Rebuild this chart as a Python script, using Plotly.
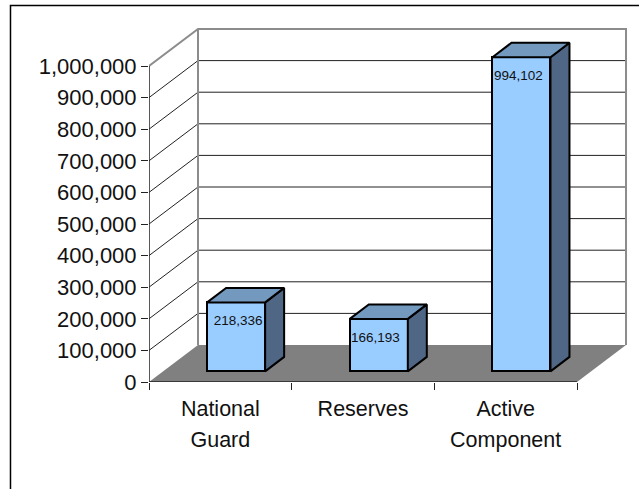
import plotly.graph_objects as go

categories = ["National<br>Guard", "Reserves", "Active<br>Component"]
values = [218336, 166193, 994102]
value_labels = ["218,336", "166,193", "994,102"]
y_ticks = [0, 100000, 200000, 300000, 400000, 500000, 600000, 700000, 800000, 900000, 1000000]

FONT = "Liberation Sans"
PX_X = 142.67          # pixels per category
PX_Y = 316e-6          # pixels per unit of value
W, H = 639, 489
L, R, T, B = 149, 4, 20, 107
x_range = [-0.5, -0.5 + (W - L - R) / PX_X]
y_range = [0, (H - T - B) / PX_Y]
WALL_DX, WALL_DY = 49 / PX_X, 37 / PX_Y
BAR_DX, BAR_DY = 19 / PX_X, 14.5 / PX_Y
BAR_W = 58 / PX_X
BAR_SHIFT = 15.8 / PX_X
BAR_BASE = 10.6 / PX_Y
LABEL_DROP = 19.5 / PX_Y
LABEL_NUDGE = [2.0 / PX_X, -3.5 / PX_X, -3.0 / PX_X]
X0, X1 = -0.5, 2.5
TOP = y_ticks[-1]

fig = go.Figure()
fig.add_trace(go.Bar(
    x=categories, y=values, base=BAR_BASE, width=BAR_W, offset=BAR_SHIFT - BAR_W / 2,
    marker=dict(color="#99CCFF", line=dict(color="#000000", width=2)),
    hoverinfo="skip", showlegend=False))

positions = list(range(len(values)))
for p, v in zip(positions, values):
    xl = p + BAR_SHIFT - BAR_W / 2
    xr = xl + BAR_W
    yb = BAR_BASE
    yt = BAR_BASE + v
    fig.add_trace(go.Scatter(
        x=[xr, xr + BAR_DX, xr + BAR_DX, xr, xr],
        y=[yb, yb + BAR_DY, yt + BAR_DY, yt, yb],
        mode="lines", fill="toself", fillcolor="#4F6685",
        line=dict(color="#000000", width=2), xaxis="x2", yaxis="y",
        hoverinfo="skip", showlegend=False))
    fig.add_trace(go.Scatter(
        x=[xl, xl + BAR_DX, xr + BAR_DX, xr, xl],
        y=[yt, yt + BAR_DY, yt + BAR_DY, yt, yt],
        mode="lines", fill="toself", fillcolor="#7399BF",
        line=dict(color="#000000", width=2), xaxis="x2", yaxis="y",
        hoverinfo="skip", showlegend=False))

fig.add_trace(go.Scatter(
    x=[p + BAR_SHIFT + n for p, n in zip(positions, LABEL_NUDGE)],
    y=[BAR_BASE + v - LABEL_DROP for v in values],
    text=value_labels, mode="text", textposition="middle center",
    textfont=dict(family=FONT, size=13.5, color="#111111"),
    xaxis="x2", yaxis="y", hoverinfo="skip", showlegend=False, cliponaxis=False))

# left axis line and front floor edge
fig.add_trace(go.Scatter(
    x=[X0, X0, X1], y=[TOP, 0, 0], mode="lines",
    line=dict(color="#222222", width=1.5), xaxis="x2", yaxis="y",
    hoverinfo="skip", showlegend=False, cliponaxis=False))

shapes = []
# floor
shapes.append(dict(
    type="path", layer="below", xref="x", yref="y",
    path=f"M {X0} 0 L {X0 + WALL_DX} {WALL_DY} L {X1 + WALL_DX} {WALL_DY} L {X1} 0 Z",
    fillcolor="#808080", line=dict(width=0)))
# gridlines: side wall diagonal plus back wall horizontal
for t in y_ticks[1:-1]:
    shapes.append(dict(
        type="path", layer="below", xref="x", yref="y",
        path=f"M {X0} {t} L {X0 + WALL_DX} {t + WALL_DY} L {X1 + WALL_DX} {t + WALL_DY}",
        line=dict(color="#222222", width=1)))
# wall outline
shapes.append(dict(
    type="path", layer="below", xref="x", yref="y",
    path=(f"M {X0} {TOP} L {X0 + WALL_DX} {TOP + WALL_DY} L {X1 + WALL_DX} {TOP + WALL_DY} "
          f"L {X1 + WALL_DX} {WALL_DY}"),
    line=dict(color="#8C8C8C", width=2)))
shapes.append(dict(
    type="line", layer="below", xref="x", yref="y",
    x0=X0 + WALL_DX, x1=X0 + WALL_DX, y0=WALL_DY, y1=TOP + WALL_DY,
    line=dict(color="#8C8C8C", width=2)))
# outer chart frame, open to the right and bottom of the picture
shapes.append(dict(
    type="path", layer="below", xref="paper", yref="paper",
    path="M -0.285 -0.5 L -0.285 1.04 L 1.2 1.04",
    line=dict(color="#000000", width=1.5)))

fig.update_layout(
    width=W, height=H, margin=dict(l=L, r=R, t=T, b=B, pad=0),
    paper_bgcolor="white", plot_bgcolor="white", showlegend=False,
    bargap=0, shapes=shapes,
    font=dict(family=FONT, size=21, color="#111111"),
    xaxis=dict(
        type="category", categoryorder="array", categoryarray=categories,
        range=x_range, tickson="boundaries", ticks="outside", ticklen=7,
        tickwidth=1, tickcolor="#222222", showgrid=False, zeroline=False,
        showline=False, fixedrange=True, ticklabelstandoff=8,
        tickvals=categories,
        ticktext=[f"<span style='font-size:21.5px'>{c.replace('<br>', '</span><br><span style=\"font-size:21.5px\">')}</span>"
                  for c in categories],
        tickfont=dict(family=FONT, size=24.5, color="#111111")),
    xaxis2=dict(overlaying="x", range=x_range, visible=False, fixedrange=True, anchor="y"),
    yaxis=dict(
        range=y_range, tickvals=y_ticks, tickformat=",", ticks="outside", ticklen=7,
        tickwidth=1, tickcolor="#222222", showgrid=False, zeroline=False,
        showline=False, fixedrange=True,
        tickfont=dict(family=FONT, size=22, color="#111111")),
)

fig.write_html("out.html", config=dict(displayModeBar=False),
               post_script="document.body.style.margin='0';document.body.style.overflow='hidden';")
